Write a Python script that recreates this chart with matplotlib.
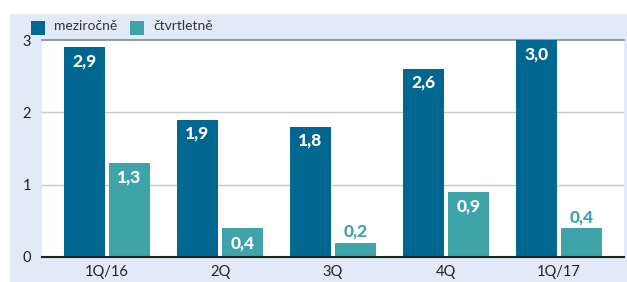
import numpy as np
import matplotlib
matplotlib.use("Agg")
import matplotlib.pyplot as plt
from matplotlib.patches import Rectangle

plt.rcParams['font.family'] = ['Lato', 'DejaVu Sans']

# data
categories = ["1Q/16", "2Q", "3Q", "4Q", "1Q/17"]
series_names = ["meziročně", "čtvrtletně"]
yoy = [2.9, 1.9, 1.8, 2.6, 3.0]
qoq = [1.3, 0.4, 0.2, 0.9, 0.4]
qoq_inside = [True, True, False, True, False]  # label inside bar or above

dark = "#006890"
teal = "#3ea4a9"
panel = "#e1eaf6"

W, H = 627, 282
fig = plt.figure(figsize=(W / 100, H / 100), dpi=100)
fig.patch.set_facecolor("white")

# light blue panel behind everything
fig.patches.append(Rectangle((10 / W, 0), 1 - 10 / W, (H - 14) / H,
                             transform=fig.transFigure, facecolor=panel,
                             edgecolor="none", zorder=-10))

ax = fig.add_axes([42 / W, 25 / H, (624 - 42) / W, (257 - 40) / H])
ax.set_facecolor("white")

x = np.arange(len(categories))
w = 0.363
off = 0.199
ax.bar(x - off, yoy, w, color=dark, zorder=3)
ax.bar(x + off, qoq, w, color=teal, zorder=3)

fmt = lambda v: f"{v:.1f}".replace(".", ",")
lab = dict(ha="center", va="center", fontsize=12.5, fontweight="black", zorder=4,
           textcoords="offset pixels")
for i, v in enumerate(yoy):
    ax.annotate(fmt(v), (x[i] - off, v), xytext=(0, -14), color="white", **lab)
for i, v in enumerate(qoq):
    if qoq_inside[i]:
        ax.annotate(fmt(v), (x[i] + off, v), xytext=(0, -15), color="white", **lab)
    else:
        ax.annotate(fmt(v), (x[i] + off, v), xytext=(0, 11), color=teal, **lab)

ax.set_xlim(-0.575, 4.575)
ax.set_ylim(0, 3)
ax.set_yticks([0, 1, 2, 3])
ax.set_xticks(x)
ax.set_xticklabels(categories)
ax.tick_params(length=0, labelsize=10.5, colors="#222222")
ax.tick_params(axis="y", pad=8)
ax.tick_params(axis="x", pad=6)

for y in [1, 2]:
    ax.axhline(y, color="#c8c8c8", lw=1.0, zorder=1)
ax.axhline(3, color="#8a9299", lw=1.3, zorder=2, clip_on=False)

for s in ["top", "right", "left"]:
    ax.spines[s].set_visible(False)
ax.spines["bottom"].set_color("#222222")
ax.spines["bottom"].set_linewidth(1.5)
ax.spines["bottom"].set_zorder(5)

# legend drawn in figure pixels
legend_x = [31, 130]
for name, col, lx in zip(series_names, [dark, teal], legend_x):
    fig.patches.append(Rectangle((lx / W, (H - 35) / H), 14 / W, 14 / H,
                                 transform=fig.transFigure, facecolor=col,
                                 edgecolor="none"))
    fig.text((lx + 23) / W, (H - 26) / H, name, fontsize=10, color="#333333",
             ha="left", va="center")

fig.savefig("out.png", dpi=100)
